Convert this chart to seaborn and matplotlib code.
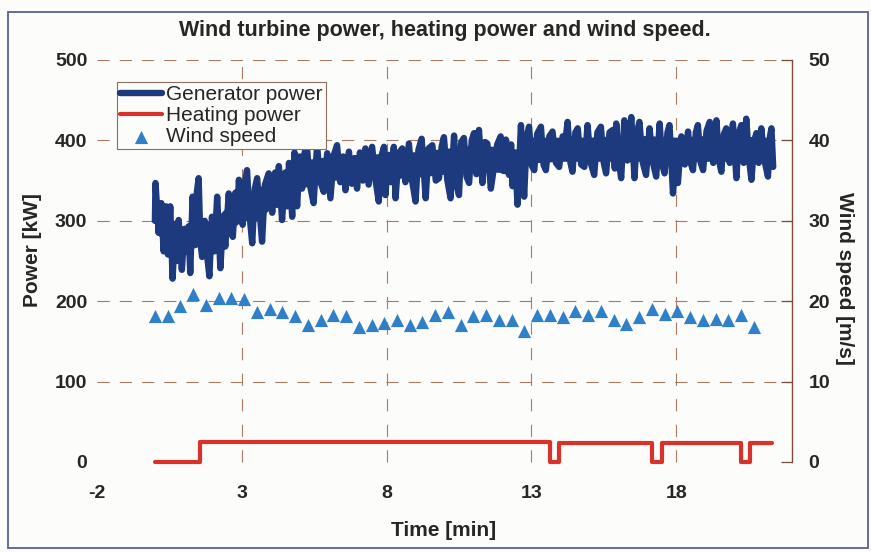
import numpy as np
import pandas as pd
import matplotlib
matplotlib.use('Agg')
import matplotlib.pyplot as plt
import seaborn as sns
from matplotlib.patches import Rectangle

# generator power trace, peaks and troughs [min, kW]
gen_time = [0.00, 0.02, 0.13, 0.22, 0.30, 0.38, 0.45, 0.53, 0.61, 0.70, 0.76, 0.82, 0.93, 1.02,
            1.10, 1.16, 1.22, 1.30, 1.38, 1.45, 1.51, 1.57, 1.63, 1.72, 1.80, 1.88, 1.97, 2.05,
            2.15, 2.26, 2.35, 2.43, 2.55, 2.62, 2.69, 2.78, 2.84, 2.90, 3.03, 3.10, 3.18, 3.26,
            3.36, 3.45, 3.53, 3.62, 3.70, 3.80, 3.93, 4.05, 4.15, 4.22, 4.28, 4.39, 4.50, 4.57,
            4.63, 4.74, 4.82,
            4.91, 5.00, 5.08, 5.17, 5.25, 5.35, 5.48, 5.60, 5.70, 5.83, 5.95, 6.06, 6.18, 6.29,
            6.40, 6.50, 6.58, 6.70, 6.80, 6.90, 6.98, 7.08, 7.18, 7.27, 7.38, 7.50, 7.62, 7.73,
            7.82, 7.91, 7.96, 8.06, 8.15, 8.25, 8.31, 8.42, 8.54, 8.65, 8.77, 8.88, 9.00, 9.10,
            9.21, 9.35, 9.45, 9.58, 9.70, 9.81, 9.90, 9.98, 10.10, 10.21, 10.33,
            10.42, 10.50, 10.58, 10.67, 10.76, 10.85, 10.94, 11.02, 11.10, 11.19, 11.31, 11.40,
            11.48, 11.60, 11.71, 11.82, 11.94, 12.03, 12.12, 12.23, 12.30, 12.35, 12.44, 12.52,
            12.58, 12.64, 12.75, 12.84, 12.92, 13.02, 13.10, 13.20, 13.33, 13.42, 13.50, 13.62,
            13.73, 13.85, 13.96, 14.08, 14.18, 14.25, 14.35, 14.42, 14.52, 14.60, 14.72, 14.83,
            14.94, 15.05, 15.17, 15.28, 15.40, 15.50, 15.58, 15.70, 15.81,
            15.88, 15.93, 16.02, 16.10, 16.21, 16.32, 16.45, 16.56, 16.65, 16.73, 16.85, 16.96,
            17.08, 17.20, 17.31, 17.43, 17.52, 17.60, 17.70, 17.77, 17.89, 17.98, 18.06, 18.18,
            18.30, 18.41, 18.50, 18.58, 18.68, 18.75, 18.85, 18.93, 19.05, 19.16, 19.28, 19.39,
            19.48, 19.56, 19.65, 19.73, 19.85, 19.96, 20.08, 20.17, 20.25, 20.33, 20.42, 20.52,
            20.60, 20.70, 20.77, 20.85, 20.94, 21.05, 21.17, 21.24, 21.29, 21.35]
gen_kw = [300, 347, 285, 322, 262, 318, 258, 318, 228, 296, 250, 301, 239, 290,
          262, 293, 235, 330, 270, 336, 353, 275, 255, 300, 258, 231, 305, 262,
          330, 241, 300, 268, 334, 290, 280, 335, 300, 351, 295, 345, 363, 310,
          272, 340, 353, 310, 274, 345, 359, 310, 360, 320, 368, 301, 360, 318,
          372, 305, 385,
          318, 380, 340, 385, 392, 345, 322, 394, 350, 336, 384, 328, 382, 394,
          348, 380, 338, 386, 346, 378, 340, 385, 350, 390, 345, 392, 350, 324,
          380, 392, 332, 382, 348, 392, 328, 384, 390, 348, 396, 350, 324, 388,
          402, 328, 390, 394, 350, 353, 392, 404, 350, 328, 406,
          345, 332, 398, 403, 355, 347, 400, 409, 358, 413, 347, 398,
          396, 340, 367, 395, 405, 362, 401, 357, 395, 343, 385, 320,
          370, 419, 330, 405, 417, 368, 363, 408, 417, 370, 363, 405,
          411, 372, 367, 405, 400, 423, 372, 361, 410, 415, 370, 367,
          419, 372, 357, 410, 417, 372, 359, 410, 413,
          365, 421, 375, 353, 425, 375, 429, 353, 410, 423, 372, 357,
          415, 372, 355, 421, 370, 359, 410, 419, 334, 375, 347, 405,
          370, 411, 372, 363, 410, 419, 372, 363, 412, 423, 372, 425,
          375, 361, 408, 415, 372, 421, 353, 410, 419, 372, 427, 375,
          351, 400, 409, 372, 415, 375, 355, 405, 415, 367]

# solid core of the generator trace (too dense to resolve single swings) [min, kW]
core_time = [0.0, 0.5, 1.0, 1.5, 2.0, 2.5, 3.0, 3.5, 4.0, 4.5, 5.0, 6.0, 7.0, 8.0, 9.0,
             10.0, 11.0, 12.0, 12.5, 12.6, 13.0, 14.0, 15.0, 16.0, 17.0, 18.0, 19.0, 20.0,
             21.0, 21.35]
core_lo = [285, 270, 262, 268, 262, 285, 300, 300, 315, 320, 340, 350, 352, 352, 354,
           358, 362, 360, 350, 372, 372, 374, 374, 374, 374, 372, 374, 374, 374, 374]
core_hi = [315, 300, 290, 300, 300, 318, 335, 340, 350, 360, 375, 380, 382, 384, 386,
           390, 394, 392, 388, 402, 404, 404, 404, 406, 406, 404, 406, 406, 404, 404]

# heating power, step changes [min, kW]
heat_time = [0.0, 1.54, 13.65, 13.97, 17.18, 17.50, 20.24, 20.55, 21.3]
heat_kw = [0, 25, 0, 23, 0, 23, 0, 23, 23]

# wind speed samples [m/s], one every 0.44 min from t = 0
wind_ms = [18.2, 18.1, 19.4, 20.9, 19.5, 20.4, 20.4, 20.3, 18.7, 19.0,
           18.7, 18.1, 17.0, 17.6, 18.3, 18.2, 16.8, 17.0, 17.3, 17.6,
           17.0, 17.4, 18.3, 18.6, 17.0, 18.1, 18.3, 17.7, 17.6, 16.3,
           18.3, 18.3, 18.0, 18.8, 18.3, 18.8, 17.7, 17.2, 18.0, 19.0,
           18.4, 18.8, 18.0, 17.6, 17.8, 17.6, 18.3, 16.8]
wind_step = 0.44
wind_time = np.arange(len(wind_ms)) * wind_step

x_ticks = [-2, 3, 8, 13, 18]
power_ticks = [0, 100, 200, 300, 400, 500]
wind_ticks = [0, 10, 20, 30, 40, 50]

sns.set_theme(style='white')
plt.rcParams['font.family'] = ['Liberation Sans', 'DejaVu Sans']
plt.rcParams['font.weight'] = 'bold'
plt.rcParams['axes.unicode_minus'] = False

gen = pd.DataFrame({'t': gen_time, 'kw': gen_kw})
heat = pd.DataFrame({'t': heat_time, 'kw': heat_kw})
wind = pd.DataFrame({'t': wind_time, 'ms': wind_ms})

bg = '#fcfcfa'
gridc = '#a87a62'
spinec = '#7b4b3c'
navy = '#1d3a7e'

fig = plt.figure(figsize=(8.71, 5.52), dpi=100, facecolor=bg)
ax = fig.add_axes([97 / 871, 1 - 471.6 / 552, 695 / 871, 411.6 / 552])
ax.set_facecolor(bg)
ax2 = ax.twinx()

# dashed grid
ax.hlines(power_ticks[1:], -2, 22, colors=gridc, lw=0.8, linestyles=(0, (11, 9)), zorder=0)
ax.vlines(x_ticks[1:], 0, 500, colors=gridc, lw=0.8, linestyles=(0, (11, 12)), zorder=0)

ax.fill_between(core_time, core_lo, core_hi, color=navy, lw=0, zorder=1.5)
sns.lineplot(data=gen, x='t', y='kw', ax=ax, color=navy, lw=4.6, estimator=None,
             sort=False, legend=False, label='Generator power', solid_joinstyle='round',
             solid_capstyle='round')
sns.lineplot(data=heat, x='t', y='kw', ax=ax, color='#d8322a', lw=3.0, estimator=None,
             sort=False, legend=False, label='Heating power', drawstyle='steps-post',
             solid_joinstyle='round', solid_capstyle='round')
sns.scatterplot(data=wind, x='t', y='ms', ax=ax2, marker='^', s=90, color='#2f80c9',
                linewidth=0, legend=False, label='Wind speed')

ax.set_xlim(-2, 22)
ax.set_ylim(-12, 500)
ax2.set_ylim(-1.2, 50)

ax.set_xticks(x_ticks)
ax.set_yticks(power_ticks)
ax2.set_yticks(wind_ticks)
ax.tick_params(axis='x', length=0, pad=10, labelsize=14)
ax.tick_params(axis='y', length=0, pad=7, labelsize=14)
ax2.tick_params(axis='y', right=True, direction='in', length=8, width=0.9, color=spinec,
                pad=12, labelsize=14)

for s in ax.spines.values():
    s.set_visible(False)
for k in ['left', 'top', 'bottom']:
    ax2.spines[k].set_visible(False)
ax2.spines['right'].set_visible(True)
ax2.spines['right'].set_color(spinec)
ax2.spines['right'].set_linewidth(1.0)
ax2.spines['right'].set_bounds(0, 50)

ax.set_title('Wind turbine power, heating power and wind speed.', fontsize=15.5,
             fontweight='bold', pad=17)
ax.set_xlabel('Time [min]', fontsize=15, fontweight='bold')
ax.xaxis.set_label_coords(0.498, -0.12)
ax.set_ylabel('Power [kW]', fontsize=15, fontweight='bold')
ax.yaxis.set_label_coords(-0.079, 0.538)
ax2.set_ylabel('Wind speed [m/s]', fontsize=15, fontweight='bold', rotation=270, va='bottom')
ax2.yaxis.set_label_coords(1.062, 0.47)

h1, l1 = ax.get_legend_handles_labels()
h2, l2 = ax2.get_legend_handles_labels()
leg = ax2.legend(h1 + h2, l1 + l2, loc='upper left', bbox_to_anchor=(0.0288, 0.9466),
                 frameon=True, fancybox=False, edgecolor='#8c6d5e', facecolor=bg,
                 framealpha=1, prop={'size': 15, 'weight': 'normal'}, labelspacing=0.1,
                 handlelength=2.0, handletextpad=0.2, borderpad=0.15, borderaxespad=0,
                 scatterpoints=1)
leg.get_frame().set_linewidth(0.8)

fig.patches.append(Rectangle((8 / 871, 4 / 552), 860 / 871, 536 / 552, transform=fig.transFigure,
                             fill=False, ec='#5a5e9e', lw=1.3))

fig.savefig('out.png', dpi=100, facecolor=bg)
